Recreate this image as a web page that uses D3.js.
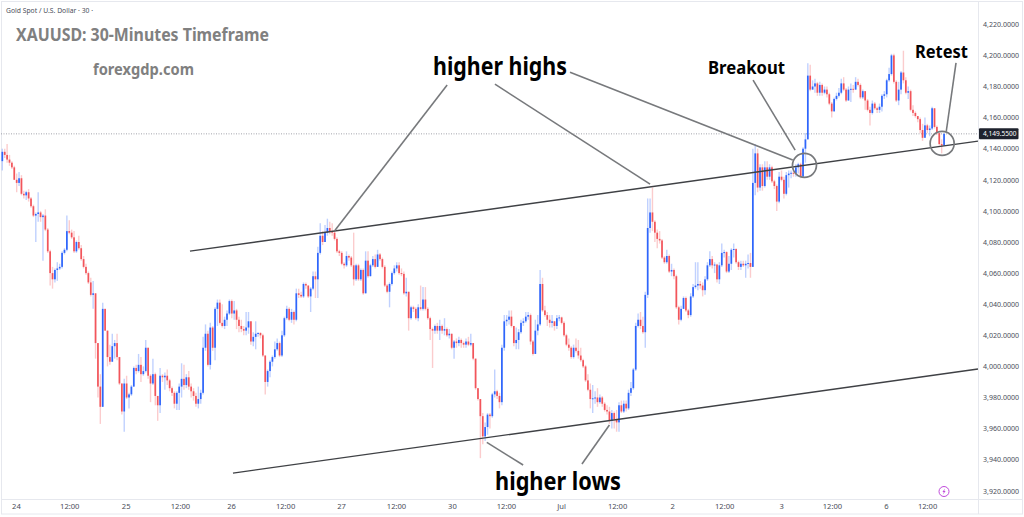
<!DOCTYPE html>
<html>
<head>
<meta charset="utf-8">
<script src="https://cdn.jsdelivr.net/npm/d3@7"></script>
<style>
  html, body { margin: 0; padding: 0; background: #fff; }
  svg { display: block; }
  text { font-family: "Noto Sans", sans-serif; }
</style>
</head>
<body>
<svg id="chart" width="1024" height="517"></svg>
<script>
// XAUUSD 30-minute candles. Each bar opens where the previous one closed.
const firstOpen = 4132;
const closes = [
  4138,4136,4133,4131,4128,4120,4118,4121,4111,4110,
  4112,4108,4103,4097,4098,4099,4096,4097,4088,4074,
  4060,4056,4062,4063,4064,4073,4075,4087,4086,4083,
  4074,4080,4076,4069,4064,4060,4054,4046,4047,4015,
  3987,3974,4037,4023,4006,4003,4013,4015,4006,3989,
  3971,3989,3980,3982,3987,3999,3997,4001,3995,3997,
  4012,3994,3989,3995,3981,3975,3994,3993,3994,3991,
  3986,3983,3976,3983,3987,3992,3988,3993,3987,3984,
  3981,3976,3979,3983,4012,4021,4001,4025,4012,4037,
  4041,4028,4026,4030,4034,4042,4034,4036,4030,4026,
  4024,4023,4025,4029,4016,4019,4021,4021.5,4020,4007,
  3990,3997,4003,4006,4011,4015,4007,4020,4031,4037,
  4030,4035,4030,4047,4046,4045,4053,4052,4045,4050,
  4058,4056,4073,4084,4080,4086,4089,4087,4086,4082,
  4074,4073,4066,4065,4071,4070,4065,4056,4065,4056,
  4062,4047,4068,4058,4065,4069,4064,4072,4069,4064,
  4052,4048,4053,4060,4063,4065,4060,4059.5,4047,4048,
  4031,4038,4037,4031,4038,4037,4043,4037,4031,4024,
  4023,4026,4023,4026,4023,4024,4020,4021,4012,4016,
  4015,4017,4015,4014,4016,4014,4015,4005,3986,3979,
  3968,3955,3961,3969,3968,3982,3984,3981,3977,4012,
  4029,4030,4032,4026,4015,4017,4022,4028,4029,4032,
  4033,4016,4008,4023,4027,4053,4036,4033,4030,4028,
  4029,4026,4031,4031.5,4028,4020,4014,4012,4006,4012,
  4010,4007,4004,4000,3991,3985,3979,3979.5,3980,3977,
  3980,3976,3972,3971,3965,3970,3966,3964,3975,3971,
  3976,3973,3983,3986,3998,4026,4030,4026,4022,4046,
  4089,4099,4093,4086,4082,4081,4070,4067,4071,4061,
  4062,4058,4038,4030,4037,4044,4036,4033,4045,4051,
  4052,4053,4052,4049,4056,4065,4069,4065,4065.5,4056,
  4065,4073,4073.5,4061,4066,4075,4075.5,4067,4064,4066,
  4065,4066,4066.5,4064,4118,4137,4115,4128,4116,4128,
  4122,4128,4119,4116,4106,4122,4120,4111,4123,4124,
  4124.5,4124,4128,4130,4122,4140,4146,4187,4178,4180,
  4182,4176,4181,4176,4178,4175,4169,4164,4172,4174,
  4176,4182,4178,4171,4178,4178.5,4178,4183,4181,4173,
  4177,4171,4165,4163,4169,4166,4165,4167,4174,4175,
  4184,4188,4200,4183,4171,4178,4189,4184,4176,4177,
  4165,4163,4161,4159,4152,4147,4155,4152,4153,4166,
  4154,4150,4143,4142,4149.55
];
const highs = [
  4140,4140,4143,4136,4132,4129,4124,4125,4123,4113,
  4113,4114,4109,4104,4099,4112,4100,4098,4101,4089,
  4075,4064,4063,4067,4066,4074,4076,4097,4094,4088,
  4087,4081,4084,4078,4071,4066,4061,4057,4055,4047,
  4015,3995,4041,4037,4023,4014,4021,4017,4021,4006,
  3989,3992,3994,3983,3988,4000,4001,4008,4006,4000,
  4017,4012,3995,4005,3996,3981,3999,3995,3996,3998,
  3992,3987,3984,3984,3989,4002,4001,3995,3997,3989,
  3986,3983,3987,3985,4019,4027,4023,4028,4026,4038,
  4043,4043,4040,4032,4036,4043,4043,4042,4037,4032,
  4030,4026,4035,4035,4029,4022,4029,4022,4022,4021,
  4007,3998,4004,4007,4016,4018,4016,4023,4032,4039,
  4038,4037,4036,4050,4050,4048,4054,4054,4052,4051,
  4061,4061,4077,4092,4087,4091,4095,4093,4092,4087,
  4083,4075,4074,4067,4074,4072,4071,4086,4066,4066,
  4063,4063,4074,4074,4066,4071,4072,4075,4073,4070,
  4065,4053,4054,4061,4065,4067,4067,4063,4061,4057,
  4048,4039,4039,4038,4040,4052,4051,4051,4038,4032,
  4025,4027,4028,4030,4027,4031,4025,4024,4021,4017,
  4018,4019,4018,4016,4018,4019,4021,4015,4005,3986,
  3979,3970,3964,3970,3970,3983,3998,3985,3983,4014,
  4033,4033,4036,4036,4026,4025,4024,4030,4031,4035,
  4035,4034,4017,4030,4033,4062,4057,4039,4035,4033,
  4033,4029,4033,4033,4032,4029,4021,4018,4013,4014,
  4018,4017,4012,4005,4001,3995,3989,3988,3984,3986,
  3982,3981,3977,3975,3974,3972,3971,3972,3977,3978,
  3978,3978,3985,3990,3999,4028,4034,4035,4032,4048,
  4108,4108,4115,4094,4088,4087,4082,4071,4075,4072,
  4066,4063,4059,4039,4039,4045,4045,4037,4047,4053,
  4067,4067,4055,4054,4058,4067,4074,4071,4067,4066,
  4067,4079,4075,4074,4071,4076,4079,4076,4068,4068,
  4068,4068,4072,4073,4140,4143,4140,4130,4130,4132,
  4132,4130,4129,4120,4117,4125,4126,4122,4125,4126,
  4126,4126,4130,4131,4131,4141,4150,4195,4194,4184,
  4185,4183,4183,4182,4180,4180,4176,4170,4173,4176,
  4179,4185,4186,4179,4180,4182,4181,4186,4185,4182,
  4178,4177,4172,4167,4171,4170,4167,4169,4175,4177,
  4185,4192,4201,4201,4184,4183,4190,4203,4186,4180,
  4178,4168,4164,4161,4160,4156,4160,4156,4155,4167,
  4166,4155,4150,4146,4150
];
const lows = [
  4126,4134,4131,4129,4127,4120,4112,4116,4110,4108,
  4107,4106,4102,4096,4080,4093,4093,4068,4087,4073,
  4052,4050,4054,4055,4062,4063,4072,4074,4085,4082,
  4073,4073,4075,4068,4063,4059,4053,4045,4037,4005,
  3980,3963,3974,4023,4000,4001,4003,4005,4004,3988,
  3969,3958,3979,3973,3981,3987,3995,3996,3990,3994,
  3996,3992,3977,3988,3975,3965,3970,3990,3985,3988,
  3984,3981,3973,3972,3972,3980,3985,3986,3985,3980,
  3978,3974,3973,3976,3982,4010,4000,3998,4010,4004,
  4026,4027,4025,4024,4026,4033,4031,4030,4024,4022,
  4022,4020,4020,4021,4014,4013,4011,4019,4018,4006,
  3982,3987,3993,4000,4005,4010,4006,4006,4019,4030,
  4029,4028,4027,4029,4044,4044,4044,4050,4044,4035,
  4049,4044,4044,4072,4078,4080,4084,4085,4084,4081,
  4073,4071,4065,4063,4064,4068,4064,4052,4055,4055,
  4055,4046,4047,4057,4058,4064,4063,4064,4068,4063,
  4051,4047,4038,4052,4059,4061,4059,4058,4046,4045,
  4023,4030,4035,4030,4029,4036,4036,4036,4030,4017,
  3999,4021,4021,4017,4021,4020,4019,4018,4011,4005,
  4012,4013,4012,4012,4012,4013,4013,4004,3985,3978,
  3941,3950,3952,3956,3960,3967,3980,3979,3973,3975,
  4010,4026,4027,4025,4013,4011,4011,4021,4026,4028,
  4030,4014,4007,4008,4020,4026,4035,4032,4026,4025,
  4025,4023,4024,4029,4027,4019,4013,4010,4005,4005,
  4009,4005,4003,3999,3990,3984,3973,3970,3976,3974,
  3976,3974,3971,3969,3963,3960,3960,3958,3958,3970,
  3970,3971,3972,3981,3985,3997,4025,4024,4021,4012,
  4044,4086,4087,4080,4076,4079,4069,4066,4066,4060,
  4058,4056,4037,4027,4029,4037,4035,4031,4032,4044,
  4050,4049,4050,4045,4046,4055,4064,4063,4060,4054,
  4053,4064,4070,4060,4060,4062,4070,4066,4062,4062,
  4064,4057,4063,4057,4064,4110,4112,4113,4113,4115,
  4120,4120,4118,4114,4100,4105,4119,4108,4110,4115,
  4121,4122,4122,4124,4121,4122,4131,4146,4177,4178,
  4176,4174,4174,4174,4175,4173,4168,4160,4164,4171,
  4173,4175,4177,4170,4171,4170,4176,4178,4180,4172,
  4172,4165,4164,4155,4162,4165,4163,4163,4164,4172,
  4173,4183,4187,4182,4170,4168,4175,4182,4175,4172,
  4164,4161,4160,4157,4150,4145,4148,4150,4148,4152,
  4153,4149,4142,4137,4142
];

const priceTicks = [4220,4200,4180,4160,4140,4120,4100,4080,4060,4040,4020,4000,3980,3960,3940,3920];
const timeTickBars = [5.7,28,51.6,74.3,95.7,118.3,141.7,164.7,188.1,210.7,233.8,257.2,280.2,302,325.8,347.1,369.7,386.9];
const timeTickLabels = ["24","12:00","25","12:00","26","12:00","27","12:00","30","12:00","Jul","12:00","2","12:00","3","12:00","6","12:00"];
const lastPrice = 4149.55;

// Drawn analysis, as [bar, price] pairs.
const channelLines = [
  [[78.5,4074.1],[408.2,4144.9]],
  [[96.5,3931.4],[408.2,3998.3]]
];
const calloutLines = [
  [[139.2,4087.6],[186.1,4180.9]],
  [[271,4117.2],[206.1,4181.5]],
  [[330.7,4132.7],[237.5,4189.2]],
  [[314.1,4184.1],[331.7,4139.1]],
  [[399,4195.2],[394.9,4150.9]],
  [[202.7,3951.1],[217.9,3936.6]],
  [[254,3962.3],[242.5,3937.2]]
];
const calloutRings = [[335.6,4129.3],[393.2,4143.4]];

const width = 1024, height = 517;
const paneRight = 978.5, paneBottom = 499, frameBottom = 514;
const blue = "#2f66fb", red = "#f2555b", wickOpacity = 0.3;

const x = d3.scaleLinear().domain([0, 408.2]).range([2.33, 978]);
const y = d3.scaleLinear().domain([3920, 4220]).range([490.8, 24.3]);

const svg = d3.select("#chart");
svg.append("rect").attr("width", width).attr("height", height).attr("fill", "#fff");

// Pane frame
const frame = svg.append("g").attr("stroke", "#e6e8ee").attr("stroke-width", 1).attr("fill", "none");
frame.append("rect").attr("x", 1.5).attr("y", 1.5).attr("width", width - 3).attr("height", frameBottom - 1.5);
frame.append("line").attr("x1", paneRight).attr("x2", paneRight).attr("y1", 1.5).attr("y2", frameBottom);
frame.append("line").attr("x1", 1.5).attr("x2", width - 1.5).attr("y1", paneBottom + 0.5).attr("y2", paneBottom + 0.5);

// Price and time axes
const axisRight = d3.axisRight(y).tickValues(priceTicks).tickSize(0).tickPadding(0).tickFormat(d3.format(",.4f"));
const gy = svg.append("g").attr("transform", `translate(${paneRight + 4.5},0)`).call(axisRight);
gy.select(".domain").remove();
gy.selectAll("text").attr("fill", "#4a4e59").attr("font-size", 7).attr("textLength", 36).attr("lengthAdjust", "spacingAndGlyphs");

const axisBottom = d3.axisBottom(x).tickValues(timeTickBars).tickSize(0).tickPadding(0)
  .tickFormat((d, i) => timeTickLabels[i]);
const gx = svg.append("g").attr("transform", `translate(0,${paneBottom + 4.2})`).call(axisBottom);
gx.select(".domain").remove();
gx.selectAll("text").attr("fill", "#4a4e59").attr("font-size", 7.6);

// Last price marker
svg.append("line")
  .attr("x1", 1).attr("x2", paneRight)
  .attr("y1", y(lastPrice)).attr("y2", y(lastPrice))
  .attr("stroke", "#8a8d96").attr("stroke-width", 0.8).attr("stroke-dasharray", "1 1.5");
svg.append("rect").attr("x", paneRight + 0.5).attr("y", y(lastPrice) - 5.5).attr("width", 39.5).attr("height", 11)
  .attr("rx", 1).attr("fill", "#1e222d");
svg.append("text").attr("x", paneRight + 4.5).attr("y", y(lastPrice)).attr("dy", "0.33em")
  .attr("fill", "#fff").attr("font-size", 7).attr("textLength", 33.5).attr("lengthAdjust", "spacingAndGlyphs")
  .text(d3.format(",.4f")(lastPrice));

// Candles
const bars = closes.map((c, i) => ({
  i, close: c, open: i ? closes[i - 1] : firstOpen, high: highs[i], low: lows[i]
}));
const colour = d => d.close >= d.open ? blue : red;
const candles = svg.append("g").selectAll("g").data(bars).join("g");
candles.append("line")
  .attr("x1", d => x(d.i)).attr("x2", d => x(d.i))
  .attr("y1", d => y(d.high)).attr("y2", d => y(d.low))
  .attr("stroke", colour).attr("stroke-width", 1.4).attr("stroke-opacity", wickOpacity);
candles.append("rect")
  .attr("x", d => x(d.i) - 0.85).attr("width", 1.7)
  .attr("y", d => y(Math.max(d.open, d.close)))
  .attr("height", d => Math.max(1, Math.abs(y(d.open) - y(d.close))))
  .attr("fill", colour);

// Trend channel, callouts and rings
const linePath = d3.line().x(d => x(d[0])).y(d => y(d[1]));
svg.append("g").selectAll("path").data(channelLines).join("path")
  .attr("d", linePath).attr("fill", "none").attr("stroke", "#3f4145").attr("stroke-width", 1.4);
svg.append("g").selectAll("path").data(calloutLines).join("path")
  .attr("d", linePath).attr("fill", "none").attr("stroke", "#77797c").attr("stroke-width", 1.6);
svg.append("g").selectAll("circle").data(calloutRings).join("circle")
  .attr("cx", d => x(d[0])).attr("cy", d => y(d[1])).attr("r", 12)
  .attr("fill", "none").attr("stroke", "#77797c").attr("stroke-width", 1.7);

// Labels, each fitted to its run width
const label = (txt, px, py, size, fill, weight, run) => svg.append("text")
  .attr("x", px).attr("y", py).attr("font-size", size).attr("fill", fill)
  .attr("font-weight", weight).attr("dy", "0.35em")
  .attr("textLength", run).attr("lengthAdjust", "spacingAndGlyphs").text(txt);
label("Gold Spot / U.S. Dollar · 30 ·", 6, 10, 7.5, "#4a4e59", 400, 87);
label("XAUUSD: 30-Minutes Timeframe", 16, 35, 17, "#808080", 700, 253);
label("forexgdp.com", 93, 69, 16, "#808080", 700, 101);
label("higher highs", 433, 66, 25, "#000", 700, 134);
label("higher lows", 495, 481, 25, "#000", 700, 126);
label("Breakout", 708, 68, 17.5, "#000", 700, 77);
label("Retest", 915, 52, 18, "#000", 700, 53);

// Lightning badge
const badge = svg.append("g").attr("transform", "translate(944,491.5)");
badge.append("circle").attr("r", 5).attr("fill", "#fff").attr("stroke", "#c04bdb").attr("stroke-width", 1);
badge.append("path").attr("d", "M1,-3 L-1.6,0.5 L-0.2,0.5 L-1,3 L1.6,-0.5 L0.2,-0.5 Z").attr("fill", "#c04bdb");
</script>
</body>
</html>
